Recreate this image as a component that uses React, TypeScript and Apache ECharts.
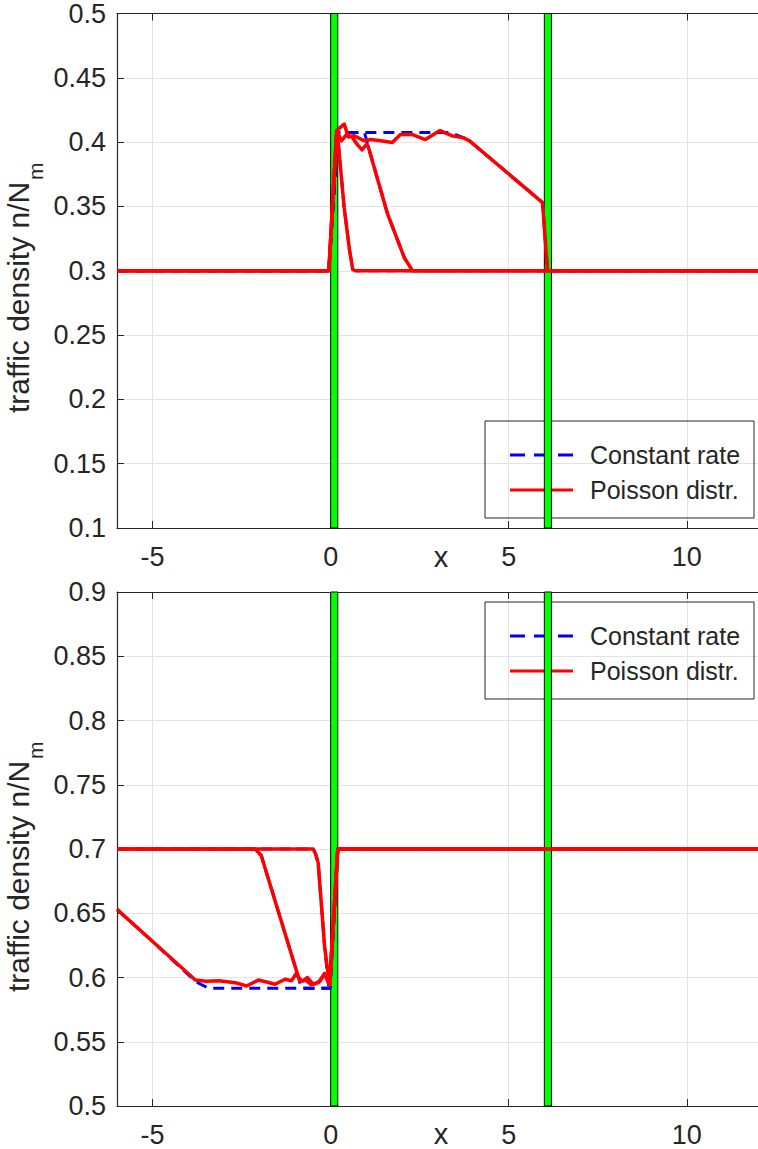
import React, { useEffect, useRef } from 'react';
import * as echarts from 'echarts';

// ---------- data ----------
const X_TICKS = [-5, 0, 5, 10];
const X_RANGE = [-6, 12];
const GREEN_BANDS = [[0, 0.2], [6, 6.2]];

// top panel (density bump, base 0.3)
const topConst1 = [[-6, 0.3], [-0.05, 0.3], [0.2, 0.4075], [0.25, 0.388], [0.38, 0.349], [0.53, 0.316], [0.62, 0.301], [0.7, 0.3], [12, 0.3]];
const topConst2 = [[-6, 0.3], [-0.05, 0.3], [0.2, 0.4075], [0.95, 0.4075], [1.05, 0.397], [1.6, 0.344], [2.07, 0.31], [2.3, 0.3], [12, 0.3]];
const topConst3 = [[-6, 0.3], [-0.05, 0.3], [0.2, 0.4075], [3.35, 0.4075], [3.72, 0.4035], [3.9, 0.401], [5.95, 0.353], [6.09, 0.3], [12, 0.3]];
const topPois1 = [[-6, 0.3], [-0.05, 0.3], [0.17, 0.409], [0.25, 0.388], [0.38, 0.349], [0.53, 0.316], [0.62, 0.301], [0.7, 0.3], [12, 0.3]];
const topPois2 = [[-6, 0.3], [-0.05, 0.3], [0.17, 0.409], [0.3, 0.401], [0.45, 0.406], [0.6, 0.404], [0.75, 0.398], [0.88, 0.394], [1.0, 0.398], [1.05, 0.397], [1.6, 0.344], [2.07, 0.31], [2.3, 0.3], [12, 0.3]];
const topPois3 = [[-6, 0.3], [-0.05, 0.3], [0.17, 0.409], [0.38, 0.414], [0.5, 0.404], [0.66, 0.405], [0.8, 0.403], [0.95, 0.401], [1.12, 0.402], [1.4, 0.401], [1.73, 0.3997], [1.96, 0.406], [2.28, 0.406], [2.66, 0.402], [3.07, 0.409], [3.4, 0.405], [3.72, 0.4035], [3.9, 0.401], [5.95, 0.353], [6.09, 0.3], [12, 0.3]];

// bottom panel (density dip, base 0.7)
const botConst1 = [[-6, 0.7], [-0.49, 0.7], [-0.42, 0.696], [-0.35, 0.689], [-0.17, 0.624], [-0.05, 0.5916], [-0.02, 0.5916], [0.2, 0.7], [12, 0.7]];
const botConst2 = [[-6, 0.7], [-2.12, 0.7], [-1.95, 0.695], [-0.91, 0.6006], [-0.82, 0.5916], [-0.02, 0.5916], [0.2, 0.7], [12, 0.7]];
const botConst3 = [[-6, 0.653], [-5.1, 0.6305], [-3.8, 0.597], [-3.43, 0.5916], [-0.02, 0.5916], [0.2, 0.7], [12, 0.7]];
const botPois1 = [[-6, 0.7], [-0.49, 0.7], [-0.42, 0.696], [-0.35, 0.689], [-0.17, 0.624], [-0.03, 0.594], [0.2, 0.7], [12, 0.7]];
const botPois2 = [[-6, 0.7], [-2.12, 0.7], [-1.95, 0.695], [-0.91, 0.6006], [-0.8, 0.597], [-0.65, 0.6], [-0.5, 0.595], [-0.35, 0.596], [-0.17, 0.603], [-0.03, 0.594], [0.2, 0.7], [12, 0.7]];
const botPois3 = [[-6, 0.653], [-5.1, 0.6305], [-3.8, 0.598], [-3.5, 0.597], [-3.14, 0.5975], [-2.68, 0.596], [-2.36, 0.5934], [-2.03, 0.598], [-1.8, 0.5965], [-1.56, 0.5947], [-1.28, 0.5986], [-1.1, 0.5975], [-0.96, 0.6033], [-0.85, 0.597], [-0.7, 0.598], [-0.55, 0.5945], [-0.45, 0.595], [-0.3, 0.597], [-0.17, 0.603], [-0.03, 0.594], [0.2, 0.7], [12, 0.7]];

const Y_TOP = { min: 0.1, max: 0.5 };
const Y_BOT = { min: 0.5, max: 0.9 };
const Y_STEP = 0.05;

const LEGEND_NAMES = ['Constant rate', 'Poisson distr.'];
const Y_LABEL_MAIN = 'traffic density n/N';
const Y_LABEL_SUB = 'm';
const X_LABEL = 'x';

// ---------- styles ----------
const FONT = 'Liberation Sans, Arial, Helvetica, sans-serif';
const AX = '#262626';
const GRIDC = '#e3e3e3';
const RED = '#ff0000';
const BLUE = '#0000ff';

export default function App() {
  const ref = useRef<HTMLDivElement>(null);

  useEffect(() => {
    if (!ref.current) return;
    const chart = echarts.init(ref.current, undefined, { renderer: 'svg' });

    const grids = [
      { left: 117, top: 13, width: 647, height: 515 },
      { left: 117, top: 592, width: 647, height: 514 },
    ];

    const xAxes: any[] = [];
    const yAxes: any[] = [];
    [0, 1].forEach((g) => {
      xAxes.push({
        type: 'value', gridIndex: g, position: 'bottom', min: X_RANGE[0], max: X_RANGE[1],
        axisLine: { show: true, onZero: false, lineStyle: { color: AX, width: 1.2 } },
        axisTick: { show: true, inside: true, length: 7, customValues: X_TICKS, lineStyle: { color: AX } },
        axisLabel: { show: true, customValues: X_TICKS, margin: 15, color: AX, fontSize: 27, fontFamily: FONT },
        splitLine: { show: true, lineStyle: { color: GRIDC, width: 1 } },
      });
      xAxes.push({
        type: 'value', gridIndex: g, position: 'top', min: X_RANGE[0], max: X_RANGE[1],
        axisLine: { show: true, onZero: false, lineStyle: { color: AX, width: 1.2 } },
        axisTick: { show: true, inside: true, length: 7, customValues: X_TICKS, lineStyle: { color: AX } },
        axisLabel: { show: false },
        splitLine: { show: false },
      });
      const yr = g === 0 ? Y_TOP : Y_BOT;
      yAxes.push({
        type: 'value', gridIndex: g, min: yr.min, max: yr.max, interval: Y_STEP,
        axisLine: { show: true, onZero: false, lineStyle: { color: AX, width: 1.2 } },
        axisTick: { show: true, inside: true, length: 7, lineStyle: { color: AX } },
        axisLabel: {
          margin: 11, color: AX, fontSize: 27, fontFamily: FONT,
          formatter: (v: number) => String(Math.round(v * 100) / 100),
        },
        splitLine: { show: true, lineStyle: { color: GRIDC, width: 1 } },
      });
    });

    const mkLine = (name: string, data: number[][], g: number, color: string, dashed: boolean, withBands = false) => ({
      type: 'line', name, data, xAxisIndex: g * 2, yAxisIndex: g,
      symbol: 'none', showSymbol: false, silent: true,
      lineStyle: { color, width: dashed ? 3 : 3.5, type: dashed ? [11, 7] : 'solid', cap: 'butt', join: 'round' },
      itemStyle: { color },
      z: dashed ? 2 : 3,
      markArea: withBands
        ? {
            silent: true,
            label: { show: false },
            itemStyle: { color: '#00ff00', borderColor: '#000000', borderWidth: 1, opacity: 1 },
            data: GREEN_BANDS.map(([a, b]) => [{ xAxis: a }, { xAxis: b }]),
          }
        : undefined,
    });

    const series = [
      mkLine(LEGEND_NAMES[0], topConst1, 0, BLUE, true, true),
      mkLine(LEGEND_NAMES[0], topConst2, 0, BLUE, true),
      mkLine(LEGEND_NAMES[0], topConst3, 0, BLUE, true),
      mkLine(LEGEND_NAMES[1], topPois1, 0, RED, false),
      mkLine(LEGEND_NAMES[1], topPois2, 0, RED, false),
      mkLine(LEGEND_NAMES[1], topPois3, 0, RED, false),
      mkLine(LEGEND_NAMES[0], botConst1, 1, BLUE, true, true),
      mkLine(LEGEND_NAMES[0], botConst2, 1, BLUE, true),
      mkLine(LEGEND_NAMES[0], botConst3, 1, BLUE, true),
      mkLine(LEGEND_NAMES[1], botPois1, 1, RED, false),
      mkLine(LEGEND_NAMES[1], botPois2, 1, RED, false),
      mkLine(LEGEND_NAMES[1], botPois3, 1, RED, false),
    ];

    const legendBox = (top: number, row1: number, row2: number) => [
      { type: 'rect', z: 1, shape: { x: 485, y: top, width: 269, height: 97 }, style: { fill: 'none', stroke: AX, lineWidth: 1 } },
      { type: 'line', z: 1, shape: { x1: 510, y1: row1, x2: 573, y2: row1 }, style: { stroke: BLUE, lineWidth: 3, lineDash: [15, 9] } },
      { type: 'line', z: 1, shape: { x1: 510, y1: row2, x2: 573, y2: row2 }, style: { stroke: RED, lineWidth: 3 } },
      { type: 'text', z: 1, x: 590, y: row1, style: { text: LEGEND_NAMES[0], fill: AX, fontSize: 25, fontFamily: FONT, verticalAlign: 'middle', align: 'left' } },
      { type: 'text', z: 1, x: 590, y: row2, style: { text: LEGEND_NAMES[1], fill: AX, fontSize: 25, fontFamily: FONT, verticalAlign: 'middle', align: 'left' } },
    ];

    // rotated y label: main text starts at yStart (bottom) and runs upward; subscript follows
    const MAIN_FS = 30;
    const mainLen = 232; // approximate rendered length of the main part
    const yLabel = (yStart: number) => [
      {
        type: 'text', z: 1, x: 18, y: yStart, rotation: Math.PI / 2,
        style: { text: Y_LABEL_MAIN, fill: AX, fontSize: MAIN_FS, fontFamily: FONT, align: 'left', verticalAlign: 'middle' },
      },
      {
        type: 'text', z: 1, x: 35, y: yStart - mainLen - 1, rotation: Math.PI / 2,
        style: { text: Y_LABEL_SUB, fill: AX, fontSize: 21, fontFamily: FONT, align: 'left', verticalAlign: 'middle' },
      },
    ];
    const xLabel = (cy: number) => ({
      type: 'text', z: 1, x: 441, y: cy,
      style: { text: X_LABEL, fill: AX, fontSize: 29, lineHeight: 24, fontFamily: FONT, align: 'center', verticalAlign: 'middle' },
    });

    chart.setOption({
      animation: false,
      backgroundColor: '#ffffff',
      grid: grids,
      xAxis: xAxes,
      yAxis: yAxes,
      series,
      graphic: [
        ...legendBox(421, 455, 490),
        ...legendBox(602, 636, 671),
        ...yLabel(413),
        ...yLabel(992),
        xLabel(557),
        xLabel(1134),
      ],
    });

    return () => chart.dispose();
  }, []);

  return (
    <div
      ref={ref}
      style={{ position: 'absolute', left: 0, top: 0, width: 758, height: 1149, overflow: 'hidden', background: '#fff' }}
    />
  );
}
